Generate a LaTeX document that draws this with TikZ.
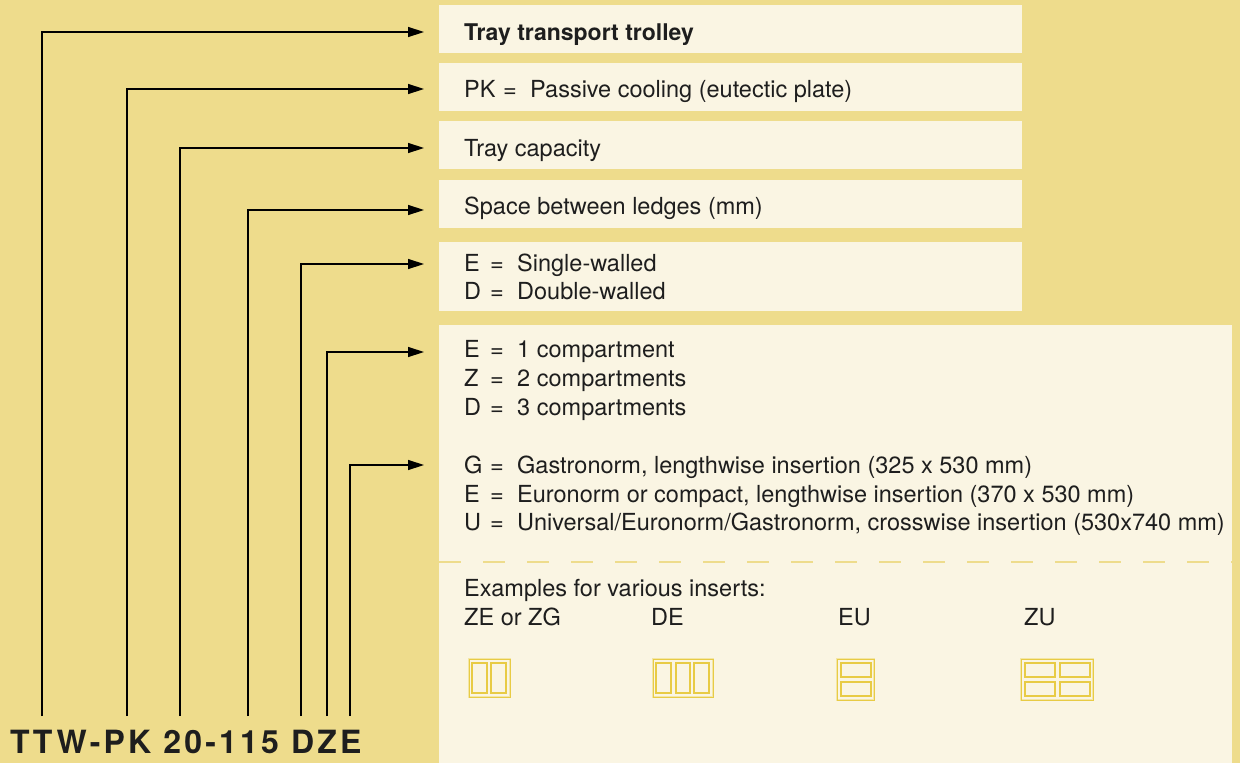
\documentclass[tikz,border=0pt]{standalone}
\usepackage{fontspec}
\setmainfont{TeX Gyre Heros}
\newfontfamily\titlefont[LetterSpace=10]{TeX Gyre Heros}
\usetikzlibrary{arrows.meta}

\definecolor{bgyellow}{HTML}{EEDC8C}
\definecolor{panel}{HTML}{FAF5E3}
\definecolor{icondark}{HTML}{E8CB45}
\definecolor{iconlight}{HTML}{F3E6A6}
\definecolor{inktext}{HTML}{1E1E1E}

\newcommand{\code}[3]{\makebox[#1][l]{#2}\makebox[27pt][l]{=}#3}

\tikzset{
  txt/.style={anchor=base west, inner sep=0pt, text=inktext,
    font=\fontsize{23.5}{28.5}\selectfont},
  lead/.style={line width=1.4pt, -{Triangle[length=16pt,width=10pt]}},
  tray/.style={draw=iconlight, line width=2.6pt},
  trayedge/.style={draw=icondark, line width=1pt},
  slot/.style={draw=icondark, line width=1.1pt}
}

\begin{document}
\begin{tikzpicture}[x=1pt,y=-1pt]
\useasboundingbox (0,0) rectangle (1240,763);
\fill[bgyellow] (0,0) rectangle (1240,763);

% panels
\fill[panel] (439,5) rectangle (1022,53);

\fill[panel] (439,63) rectangle (1022,111);

\fill[panel] (439,121) rectangle (1022,169);

\fill[panel] (439,180) rectangle (1022,228);

\fill[panel] (439,242) rectangle (1022,311);

\fill[panel] (439,325) rectangle (1232,763);

\draw[bgyellow, line width=2.7pt, dash pattern=on 22pt off 22pt] (439,562) -- (1232,562);

% texts
\node[txt, font=\bfseries\fontsize{23}{28.5}\selectfont] (name) at (464,40) {Tray transport trolley};

\node[txt] (cool) at (464,97) {\code{39pt}{PK}{Passive cooling (eutectic plate)}};

\node[txt] (cap) at (464,156) {Tray capacity};

\node[txt] (ledge) at (464,214) {Space between ledges (mm)};

\node[txt] (wall1) at (464,271) {\code{26pt}{E}{Single-walled}};
\node[txt] (wall2) at (464,299) {\code{26pt}{D}{Double-walled}};

\node[txt] (comp1) at (464,357) {\code{26pt}{E}{1 compartment}};
\node[txt] (comp2) at (464,386) {\code{26pt}{Z}{2 compartments}};
\node[txt] (comp3) at (464,415) {\code{26pt}{D}{3 compartments}};

\node[txt] (ins1) at (464,473) {\code{26pt}{G}{Gastronorm, lengthwise insertion (325 x 530 mm)}};
\node[txt] (ins2) at (464,502) {\code{26pt}{E}{Euronorm or compact, lengthwise insertion (370 x 530 mm)}};
\node[txt] (ins3) at (464,530) {\code{26pt}{U}{Universal/Euronorm/Gastronorm, crosswise insertion (530x740 mm)}};

\node[txt] (ex) at (464,596) {Examples for various inserts:};
\node[txt] (exZE) at (464,625) {ZE or ZG};
\node[txt] (exDE) at (651,625) {DE};
\node[txt] (exEU) at (838,625) {EU};
\node[txt] (exZU) at (1024,625) {ZU};

% insert icons
\draw[tray] (469,659) rectangle (510,697);
\draw[trayedge] (469,659) rectangle (510,697);
\draw[slot] (472,663) rectangle (487,693);
\draw[slot] (491,663) rectangle (506,693);

\draw[tray] (653,659) rectangle (713,697);
\draw[trayedge] (653,659) rectangle (713,697);
\draw[slot] (656,663) rectangle (671,693);
\draw[slot] (676,663) rectangle (690,693);
\draw[slot] (694,663) rectangle (709,693);

\draw[tray] (837,659) rectangle (874,700);
\draw[trayedge] (837,659) rectangle (874,700);
\draw[slot] (841,663) rectangle (871,677);
\draw[slot] (841,682) rectangle (871,696);

\draw[tray] (1021,659) rectangle (1093,700);
\draw[trayedge] (1021,659) rectangle (1093,700);
\draw[slot] (1025,663) rectangle (1055,677);
\draw[slot] (1060,663) rectangle (1090,677);
\draw[slot] (1025,682) rectangle (1055,696);
\draw[slot] (1060,682) rectangle (1090,696);

% type code and leader lines
\node[anchor=base west, inner sep=0pt, text=inktext,
  font=\titlefont\bfseries\fontsize{32}{32}\selectfont] (code) at (10,753) {TTW-PK 20-115 DZE};

\coordinate (S1) at (42,716);
\coordinate (S2) at (127,716);
\coordinate (S3) at (180,716);
\coordinate (S4) at (248,716);
\coordinate (S5) at (301,716);
\coordinate (S6) at (327,716);
\coordinate (S7) at (350,716);

\coordinate (T1) at (424,32);
\coordinate (T2) at (424,89);
\coordinate (T3) at (424,148);
\coordinate (T4) at (424,210);
\coordinate (T5) at (424,264);
\coordinate (T6) at (424,352);
\coordinate (T7) at (424,465);

\draw[lead] (S1) |- (T1);
\draw[lead] (S2) |- (T2);
\draw[lead] (S3) |- (T3);
\draw[lead] (S4) |- (T4);
\draw[lead] (S5) |- (T5);
\draw[lead] (S6) |- (T6);
\draw[lead] (S7) |- (T7);
\end{tikzpicture}
\end{document}
